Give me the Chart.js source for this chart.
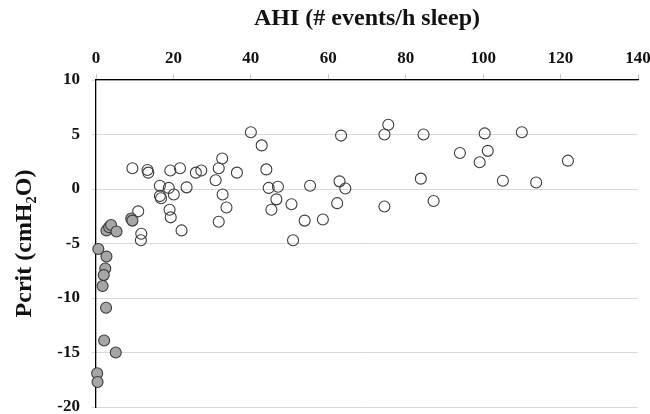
<!DOCTYPE html>
<html>
<head>
<meta charset="utf-8">
<script src="https://cdn.jsdelivr.net/npm/chart.js@4"></script>
<style>
  body { margin: 0; background: #fff; }
  #wrap { width: 650px; height: 414px; }
</style>
</head>
<body>
<div id="wrap"><canvas id="chart" width="650" height="414"></canvas></div>
<script>
// Серые точки (низкий AHI)
const ahiLow = [0.6, 2.7, 2.4, 2.0, 1.7, 2.6, 2.1, 5.1, 0.3, 0.4, 2.7, 3.4, 3.9, 5.3, 9.1, 9.4];
const pcritLow = [-5.5, -6.2, -7.3, -7.9, -8.9, -10.9, -13.9, -15.0, -16.9, -17.7, -3.8, -3.5, -3.3, -3.9, -2.7, -2.9];

// Пустые точки
const ahiHigh = [
  9.4, 13.3, 13.5, 19.2, 21.7, 25.8, 27.2, 32.6, 31.7, 36.4,
  30.9, 16.5, 18.8, 23.4, 16.5, 16.8, 20.1, 32.7, 33.7, 10.9,
  19.0, 19.3, 31.7, 22.1, 11.7, 11.6, 40.0, 42.8, 44.0, 44.6,
  47.0, 55.3, 62.9, 64.4, 46.6, 45.3, 50.5, 62.3, 74.5, 53.9,
  58.6, 50.9, 63.3, 75.5, 74.5, 84.6, 100.4, 110.0, 94.0, 101.2,
  99.1, 121.9, 83.9, 105.1, 113.7, 87.2
];
const pcritHigh = [
  1.9, 1.75, 1.5, 1.7, 1.9, 1.5, 1.7, 2.8, 1.9, 1.5,
  0.8, 0.3, 0.1, 0.15, -0.65, -0.85, -0.5, -0.5, -1.7, -2.05,
  -1.9, -2.6, -3.0, -3.8, -4.1, -4.7, 5.2, 4.0, 1.8, 0.1,
  0.2, 0.3, 0.7, 0.05, -0.95, -1.9, -1.4, -1.3, -1.6, -2.9,
  -2.8, -4.7, 4.9, 5.9, 5.0, 5.0, 5.1, 5.2, 3.3, 3.5,
  2.45, 2.6, 0.95, 0.76, 0.6, -1.1
];

const xTitle = "AHI (# events/h sleep)";
const yTitle = "Pcrit (cmH\u2082O)";

const toPoints = (xs, ys) => xs.map((x, i) => ({ x: x, y: ys[i] }));

const serif = "'Liberation Serif', 'Times New Roman', serif";
const textColor = "#111";

new Chart(document.getElementById("chart"), {
  type: "scatter",
  data: {
    datasets: [
      {
        data: toPoints(ahiLow, pcritLow),
        backgroundColor: "#a6a6a6",
        borderColor: "#3a3a3a",
        borderWidth: 1.1,
        pointRadius: 5.5,
        clip: false,
      },
      {
        data: toPoints(ahiHigh, pcritHigh),
        backgroundColor: "rgba(255,255,255,0)",
        borderColor: "#3a3a3a",
        borderWidth: 1.1,
        pointRadius: 5.5,
        clip: false,
      },
    ],
  },
  options: {
    responsive: false,
    animation: false,
    layout: { padding: { left: 0, top: 0, right: 12, bottom: 7 } },
    plugins: { legend: { display: false }, tooltip: { enabled: false } },
    scales: {
      x: {
        type: "linear",
        position: "top",
        min: 0,
        max: 140,
        ticks: {
          stepSize: 20,
          padding: 5,
          color: textColor,
          font: { family: serif, size: 17, weight: "bold" },
        },
        grid: {
          drawOnChartArea: false,
          drawTicks: true,
          tickLength: 6,
          color: "#c8c8c8",
        },
        border: { display: true, color: "#000", width: 1.3 },
        title: {
          display: true,
          text: xTitle,
          color: textColor,
          font: { family: serif, size: 24, weight: "bold" },
          padding: { top: 4, bottom: 0 },
        },
        afterFit: (s) => {
          s.height = 80;
          s.paddingLeft = 0;
          s.paddingRight = 0;
        },
      },
      y: {
        type: "linear",
        min: -20,
        max: 10,
        ticks: {
          stepSize: 5,
          padding: 12,
          color: textColor,
          font: { family: serif, size: 17, weight: "bold" },
        },
        grid: {
          drawTicks: true,
          tickLength: 4,
          color: "#d9d9d9",
        },
        border: { display: true, color: "#000", width: 1.3 },
        title: {
          display: true,
          text: yTitle,
          color: textColor,
          font: { family: serif, size: 24, weight: "bold" },
          padding: { top: 10, bottom: 0 },
        },
        afterFit: (s) => {
          s.width = 96;
          s.paddingTop = 0;
          s.paddingBottom = 0;
        },
      },
    },
  },
});
</script>
</body>
</html>
